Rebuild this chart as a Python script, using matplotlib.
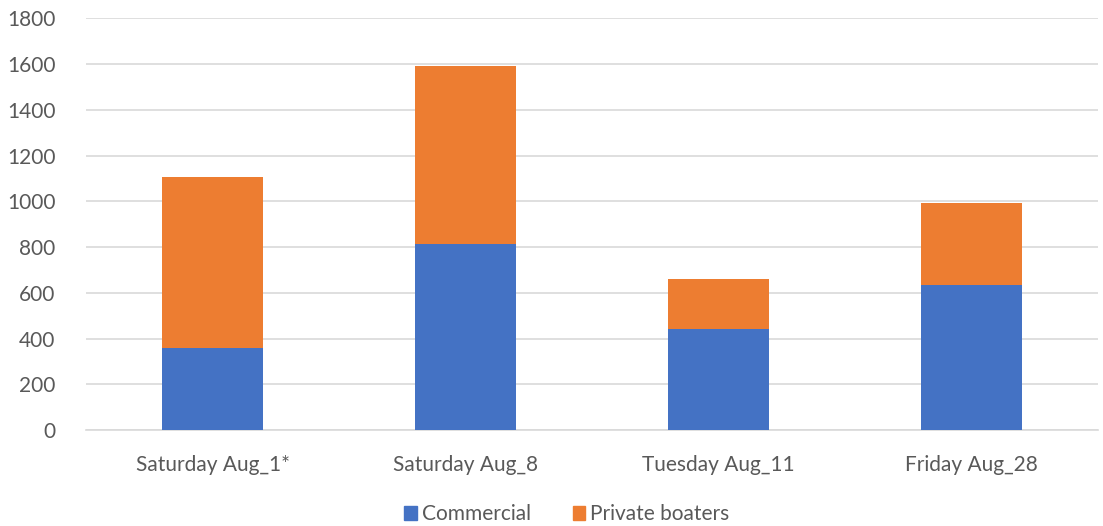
import matplotlib
matplotlib.use("Agg")
import matplotlib.pyplot as plt
from matplotlib.patches import Patch

categories = ["Saturday Aug_1*", "Saturday Aug_8", "Tuesday Aug_11", "Friday Aug_28"]
commercial = [358, 812, 441, 636]
private = [750, 782, 218, 355]
yticks = [0, 200, 400, 600, 800, 1000, 1200, 1400, 1600, 1800]

plt.rcParams['font.family'] = ['Lato', 'DejaVu Sans']
fig = plt.figure(figsize=(11.03, 5.26), dpi=100)
ax = fig.add_axes([0.078, 0.1825, 0.9175, 0.7825])

x = list(range(len(categories)))
c1 = "#4472C4"
c2 = "#ED7D31"
ax.bar(x, commercial, width=0.4, color=c1, zorder=3)
ax.bar(x, private, width=0.4, bottom=commercial, color=c2, zorder=3)

ax.set_xlim(-0.5, 3.5)
ax.set_ylim(0, 1800)
ax.set_yticks(yticks)
ax.set_xticks(x)
ax.set_xticklabels(categories)
ax.grid(axis='y', color='#d9d9d9', linewidth=1.2, zorder=0)
for s in ['top', 'right', 'left']:
    ax.spines[s].set_visible(False)
ax.spines['bottom'].set_color('#d9d9d9')
ax.spines['bottom'].set_linewidth(1.2)
ax.tick_params(axis='both', length=0, labelsize=15, colors='#595959')
ax.tick_params(axis='y', pad=22)
ax.tick_params(axis='x', pad=18)

handles = [Patch(color=c1, label="Commercial"), Patch(color=c2, label="Private boaters")]
fig.legend(handles=handles, loc='center', bbox_to_anchor=(0.514, 0.022), ncol=2, frameon=False,
           fontsize=15, labelcolor='#595959', handlelength=0.6, handleheight=0.6,
           handletextpad=0.25, columnspacing=2.0)

fig.savefig("out.png", dpi=100)
